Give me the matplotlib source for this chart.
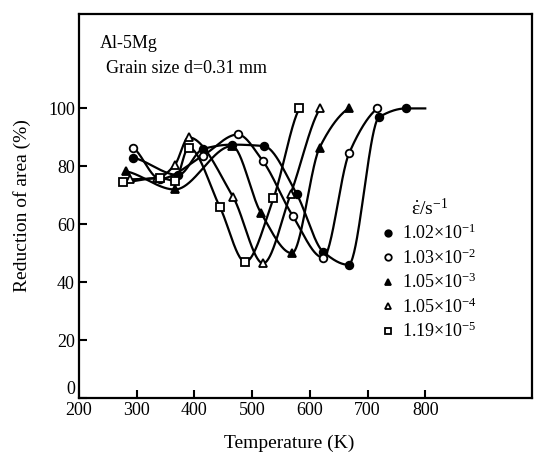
import numpy as np
import matplotlib
matplotlib.use("Agg")
import matplotlib.pyplot as plt

plt.rcParams['font.family'] = ['Liberation Serif', 'DejaVu Serif']
plt.rcParams['mathtext.fontset'] = 'custom'
plt.rcParams['mathtext.rm'] = 'Liberation Serif'
plt.rcParams['mathtext.it'] = 'Liberation Serif:italic'

# reduction of area (%) vs test temperature (K) for each strain rate
T_1 = [293, 372, 415, 465, 520, 577, 623, 667, 720, 767, 800]
RA_1 = [83, 77, 86, 87.5, 87, 70.5, 50.5, 46, 97, 100, 100]

T_2 = [293, 340, 414, 475, 518, 570, 623, 668, 717]
RA_2 = [86.5, 75.7, 83.6, 91, 82, 63, 48.5, 84.5, 100]

T_3 = [281, 366, 465, 515, 569, 617, 667]
RA_3 = [78.3, 72, 87, 64, 50, 86.5, 100]

T_4 = [288, 336, 366, 390, 467, 519, 567, 618]
RA_4 = [75.5, 76, 80.5, 90, 69.4, 46.5, 70.6, 100]

T_5 = [277, 340, 366, 390, 444, 488, 537, 582]
RA_5 = [74.5, 76, 75, 86.5, 66, 47, 69, 100]

rate_labels = [r'1.02$\times$10$^{-1}$', r'1.03$\times$10$^{-2}$',
               r'1.05$\times$10$^{-3}$', r'1.05$\times$10$^{-4}$',
               r'1.19$\times$10$^{-5}$']


def pchip(x, y, xs):
    # monotone cubic hermite (Fritsch-Carlson) so the S-bends don't overshoot
    x = np.asarray(x, float)
    y = np.asarray(y, float)
    h = np.diff(x)
    d = np.diff(y) / h
    m = np.zeros_like(y)
    for k in range(1, len(x) - 1):
        if d[k - 1] * d[k] > 0:
            w1 = 2 * h[k] + h[k - 1]
            w2 = h[k] + 2 * h[k - 1]
            m[k] = (w1 + w2) / (w1 / d[k - 1] + w2 / d[k])
    m[0] = d[0] if len(x) == 2 else 0.5 * d[0]
    m[-1] = 0.5 * d[-1]
    idx = np.clip(np.searchsorted(x, xs) - 1, 0, len(h) - 1)
    t = (xs - x[idx]) / h[idx]
    h00 = 2 * t**3 - 3 * t**2 + 1
    h10 = t**3 - 2 * t**2 + t
    h01 = -2 * t**3 + 3 * t**2
    h11 = t**3 - t**2
    return (h00 * y[idx] + h10 * h[idx] * m[idx]
            + h01 * y[idx + 1] + h11 * h[idx] * m[idx + 1])


fig = plt.figure(figsize=(5.35, 4.55), dpi=100)
ax = fig.add_axes([0.1477, 0.1253, 0.8467, 0.8439])

series = [
    (T_1, RA_1, 'o', 'black', slice(0, -1)),
    (T_2, RA_2, 'o', 'white', None),
    (T_3, RA_3, '^', 'black', None),
    (T_4, RA_4, '^', 'white', None),
    (T_5, RA_5, 's', 'white', None),
]

handles = []
for (tx, ry, mk, fc, every), lab in zip(series, rate_labels):
    xs = np.linspace(tx[0], tx[-1], 400)
    ax.plot(xs, pchip(tx, ry, xs), color='black', lw=1.6, zorder=2)
    tm = tx if every is None else tx[every]
    rm = ry if every is None else ry[every]
    h, = ax.plot(tm, rm, linestyle='none', marker=mk, ms=5.5,
                 mfc=fc, mec='black', mew=1.3, zorder=3, label=lab)
    handles.append(h)

ax.set_xlim(200, 985)
ax.set_ylim(0, 132.6)
ax.set_xticks([200, 300, 400, 500, 600, 700, 800])
ax.set_yticks([0, 20, 40, 60, 80, 100])
ax.tick_params(direction='in', length=6, width=1.5, labelsize=13, pad=3)
ax.tick_params(top=False, right=False)
for sp in ax.spines.values():
    sp.set_linewidth(1.6)

# the "0" sits just above the x axis so it clears the "200" below it
fig.canvas.draw()
ax.get_yticklabels()[0].set_verticalalignment('bottom')

ax.set_xlabel('Temperature (K)', fontsize=14)
ax.xaxis.set_label_coords(0.465, -0.095)
ax.set_ylabel('Reduction of area (%)', fontsize=14)
ax.yaxis.set_label_coords(-0.105, 0.5)

ax.text(0.046, 0.924, 'Al-5Mg', transform=ax.transAxes, fontsize=13,
        va='center', ha='left')
ax.text(0.06, 0.859, 'Grain size d=0.31 mm', transform=ax.transAxes,
        fontsize=13, va='center', ha='left')

leg = ax.legend(handles=handles,
                title=r'$\dot{\mathrm{\varepsilon}}$/s$^{-1}$',
                loc='upper left', bbox_to_anchor=(0.642, 0.555),
                frameon=False, fontsize=13, title_fontsize=14,
                handlelength=0.6, handletextpad=0.5, labelspacing=0.28,
                borderpad=0.2, markerscale=0.85)

fig.savefig('out.png', dpi=100)
